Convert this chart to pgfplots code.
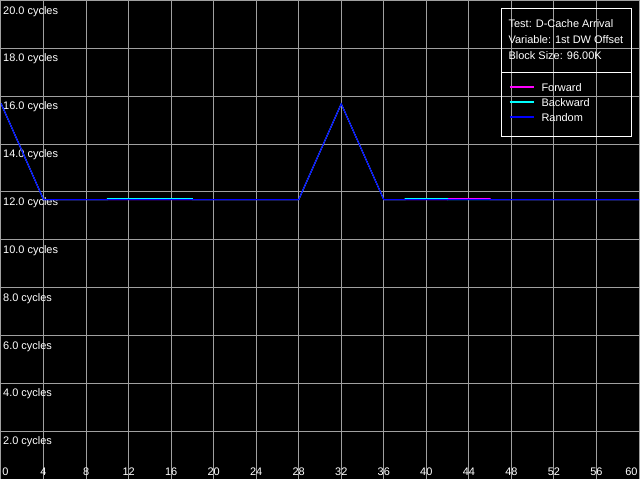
\documentclass[border=0pt]{standalone}
\usepackage{pgfplots}
\pgfplotsset{compat=1.18}
\usepackage{fontspec}
\setmainfont{Liberation Sans}
\definecolor{gridgray}{RGB}{160,160,160}
\definecolor{fwdcol}{RGB}{255,0,255}
\definecolor{bwdcol}{RGB}{0,255,255}
\definecolor{rndcol}{RGB}{0,0,255}
\begin{document}
\begin{tikzpicture}[font=\fontsize{11bp}{13bp}\selectfont]
\begin{axis}[
  scale only axis,
  width=640bp, height=480bp,
  xmin=0, xmax=60, ymin=0, ymax=20,
  axis background/.style={fill=black},
  axis line style={draw=none},
  tick style={draw=none},
  major tick length=0pt,
  xtick={0,4,...,60},
  xticklabels={\rlap{\hspace{1.5bp}0},4,8,12,16,20,24,28,32,36,40,44,48,52,56,\llap{60\hspace{1.5bp}}},
  ytick={2,4,...,20},
  yticklabels={2.0 cycles,4.0 cycles,6.0 cycles,8.0 cycles,10.0 cycles,12.0 cycles,14.0 cycles,16.0 cycles,18.0 cycles,20.0 cycles},
  xticklabel style={anchor=south, inner sep=1bp, yshift=2bp, text=white},
  yticklabel style={anchor=north west, inner sep=1bp, xshift=1bp, yshift=-4.5bp, text=white},
  grid=major,
  major grid style={draw=gridgray, line width=1bp},
  legend style={at={(axis cs:47.72,16.54)}, anchor=north west, draw=none, fill=none,
    text=white, row sep=7bp, inner sep=0pt,
    nodes={inner sep=0pt, text height=8bp, text depth=0pt}},
  legend cell align=left,
  legend image code/.code={\draw[#1, line width=2bp] (0bp,0bp) -- (24bp,0bp);},
]
\addplot[color=fwdcol, line width=1bp] coordinates {
 (0,15.70) (4,11.68) (28,11.68) (32,15.68) (36,11.68) (42,11.68) (42,11.72) (46,11.72) (46,11.68) (60,11.68)};
\addlegendentry{\hspace{7bp}Forward}
\addplot[color=bwdcol, line width=1bp] coordinates {
 (0,15.70) (4,11.68) (10,11.68) (10,11.72) (18,11.72) (18,11.68) (28,11.68) (32,15.68) (36,11.68) (38,11.68) (38,11.72) (42,11.72) (42,11.68) (60,11.68)};
\addlegendentry{\hspace{7bp}Backward}
\addplot[color=rndcol, line width=1bp] coordinates {
 (0,15.70) (4,11.68) (28,11.68) (32,15.68) (36,11.68) (60,11.68)};
\addlegendentry{\hspace{7bp}Random}
\draw[white, line width=1bp] (axis cs:47.03,19.65) rectangle (axis cs:59.28,14.33);
\draw[white, line width=1bp] (axis cs:47.03,17.0) -- (axis cs:59.28,17.0);
\node[anchor=west, text=white, inner sep=0pt] at (axis cs:47.72,19.04) {Test: D-Cache Arrival};
\node[anchor=west, text=white, inner sep=0pt] at (axis cs:47.72,18.375) {Variable: 1st DW Offset};
\node[anchor=west, text=white, inner sep=0pt] at (axis cs:47.72,17.71) {Block Size: 96.00K};
\end{axis}
\end{tikzpicture}
\end{document}
